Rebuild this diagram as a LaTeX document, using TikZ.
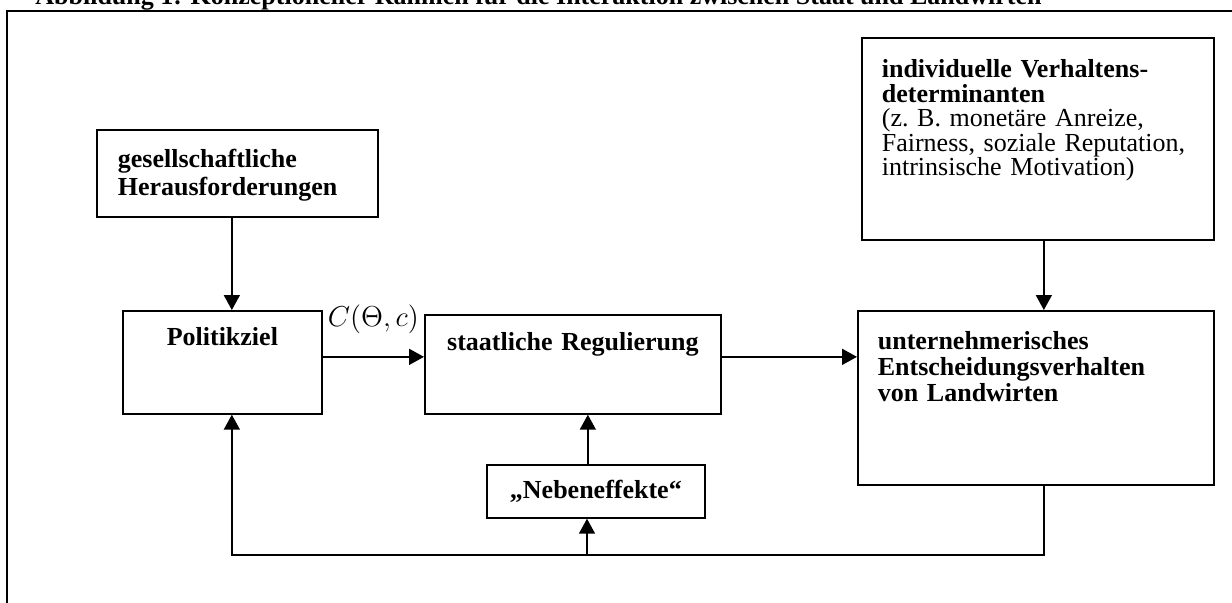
\documentclass[tikz,border=0pt]{standalone}
\usepackage{fontspec}
\setmainfont{Liberation Serif}
\usetikzlibrary{arrows.meta,positioning}

\tikzset{
  txt/.style={font=\fontsize{13}{12.25}\selectfont},
  box/.style={txt, draw, line width=0.85pt, inner ysep=0pt,
    execute at begin node={\setlength{\baselineskip}{12.25pt}}},
  arr/.style={-{Triangle[length=7.5pt,width=8pt]}, line width=0.85pt},
}

\begin{document}
\begin{tikzpicture}[x=0.5pt,y=-0.5pt]
  \useasboundingbox (0,0) rectangle (1232,602);
  \fill[white] (0,0) rectangle (1232,602);
  % title line, cut at the top edge
  \node[font=\fontsize{13}{12.25}\selectfont\bfseries, anchor=base west, inner sep=0pt] (title) at (35,4)
    {Abbildung 1: Konzeptioneller Rahmen für die Interaktion zwischen Staat und Landwirten};
  \draw[line width=1pt] (7,11) rectangle (1260,640);

  \node[box, anchor=north west, align=left, inner xsep=10.5pt, text width=119.5pt,
        text height=18.75pt, text depth=24.75pt] (ges) at (96,129)
    {\bfseries gesellschaftliche\\[2pt]Herausforderungen};
  \node[box, anchor=north west, align=center, inner xsep=5pt, text width=89.5pt,
        text height=17.5pt, text depth=34pt] (ziel) at (122,310)
    {\bfseries Politikziel};
  \node[box, anchor=north west, align=center, inner xsep=5pt, text width=138pt,
        text height=18pt, text depth=31.5pt] (regul) at (424,314)
    {\bfseries staatliche Regulierung};
  \node[box, anchor=north west, align=left, inner xsep=10pt, text width=156pt,
        text height=20pt, text depth=81pt] (indiv) at (861,37)
    {\bfseries individuelle Verhaltens-\\determinanten\\
     \mdseries (z.\ B. monetäre Anreize,\\Fairness, soziale Reputation,\\intrinsische Motivation)};
  \node[box, anchor=north west, align=left, inner xsep=10pt, text width=158pt,
        text height=19.5pt, text depth=67.5pt] (entsch) at (857,310)
    {\bfseries unternehmerisches\\[0.75pt]Entscheidungsverhalten\\[0.75pt]von Landwirten};
  \node[box, anchor=north west, align=center, inner xsep=5pt, text width=99pt,
        text height=17pt, text depth=9.5pt] (neben) at (486,464)
    {\bfseries „Nebeneffekte“};

  \coordinate (fb) at (587,555);

  \draw[arr] ([xshift=-2.75pt]ges.south) -- ([xshift=-2.75pt]ges.south |- ziel.north);
  \draw[arr] ([yshift=2.75pt]ziel.east) -- ([yshift=2.75pt]ziel.east -| regul.west)
    node[midway, above=11pt, inner sep=0pt, font=\fontsize{14.5}{16}\selectfont] {$C(\Theta,c)$};
  \draw[arr] ([yshift=3.75pt]regul.east) -- ([yshift=3.75pt]regul.east -| entsch.west);
  \draw[arr] ([xshift=3pt]indiv.south) -- ([xshift=3pt]indiv.south |- entsch.north);
  \draw[arr] ([xshift=-4pt]neben.north) -- ([xshift=-4pt]neben.north |- regul.south);
  \draw[arr] ([xshift=4pt]entsch.south) |- (fb) -| ([xshift=4.75pt]ziel.south);
  \draw[arr] (fb) -- (fb |- neben.south);
\end{tikzpicture}
\end{document}
